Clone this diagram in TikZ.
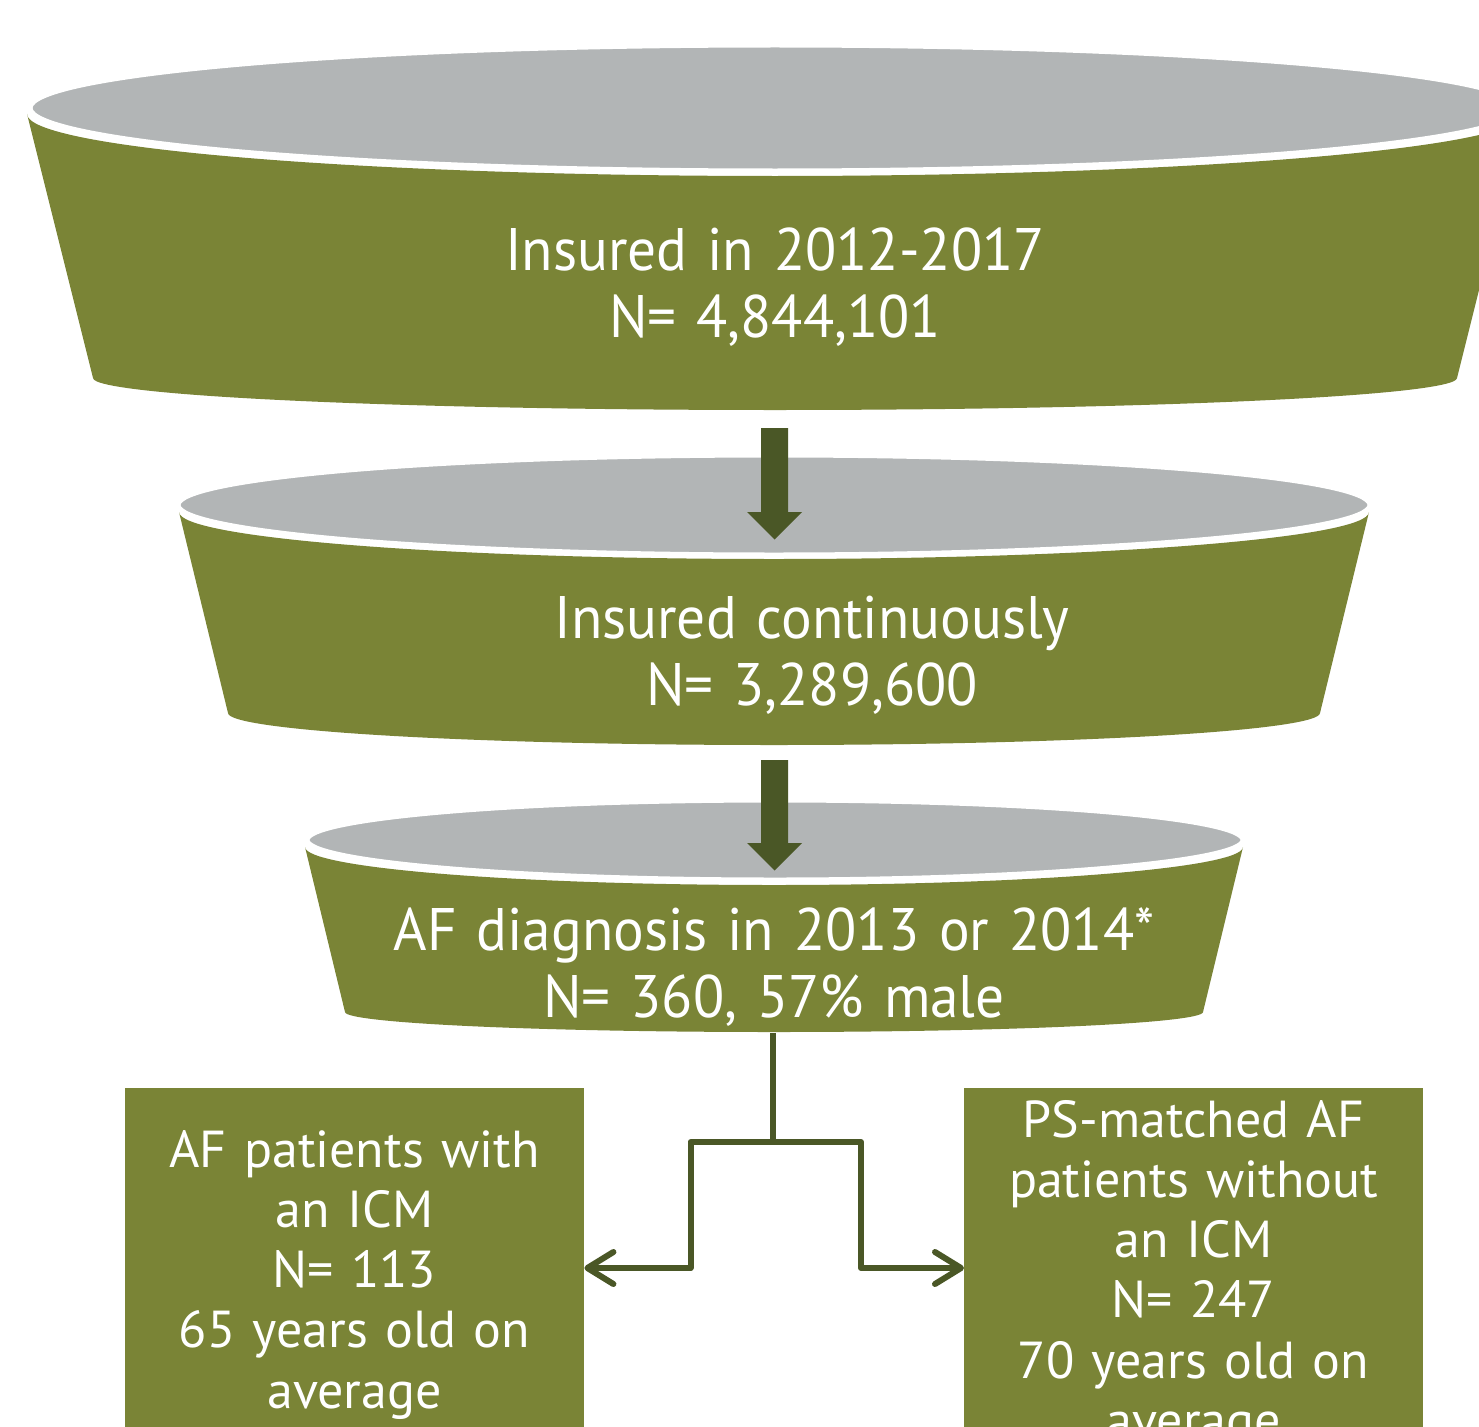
\documentclass[tikz,border=0pt]{standalone}
\usepackage{fontspec}
\setmainfont{PT Sans}
\newfontfamily\funnelfont[FakeStretch=0.955]{PT Sans}
\usetikzlibrary{arrows.meta}
\definecolor{fgreen}{RGB}{122,132,54}
\definecolor{fgray}{RGB}{178,181,182}
\definecolor{dgreen}{RGB}{74,87,38}
\begin{document}
\begin{tikzpicture}[x=1pt,y=1pt,
  funneltext/.style={text=white, font=\funnelfont\fontsize{60}{67}\selectfont, align=center, text width=1000pt, anchor=base, inner sep=0pt},
  boxtext/.style={text=white, font=\fontsize{52}{60.3}\selectfont, align=center, text width=450pt, anchor=base, inner sep=0pt},
  box/.style={fill=fgreen, draw=none, minimum width=459pt, minimum height=420pt, anchor=north west, inner sep=0pt},
  grayrim/.style={fill=fgray, draw=white, line width=5pt},
  blockarrow/.style={fill=dgreen},
  conn/.style={draw=dgreen, line width=6pt, line join=round, -{Straight Barb[length=26pt,width=32pt,line cap=round,line join=round]}}
]
\useasboundingbox (0,0) rectangle (1479,-1426);
\clip (0,0) rectangle (1479,-1426);
\fill[white] (0,0) rectangle (1479,-1426);

% funnel 1
\fill[fgreen] (27,-114) arc[start angle=180,end angle=360,x radius=748,y radius=62]
  -- (1457,-378) arc[start angle=0,end angle=-180,x radius=682,y radius=32] -- cycle;
\filldraw[grayrim] (775,-108) ellipse [x radius=745, y radius=63];

% funnel 2
\fill[fgreen] (179,-512) arc[start angle=180,end angle=360,x radius=595,y radius=47]
  -- (1320,-713) arc[start angle=0,end angle=-180,x radius=546,y radius=32] -- cycle;
\filldraw[grayrim] (774,-505) ellipse [x radius=596, y radius=50];

% funnel 3
\fill[fgreen] (305,-847) arc[start angle=180,end angle=360,x radius=469,y radius=38]
  -- (1203,-1012) arc[start angle=0,end angle=-180,x radius=429,y radius=20] -- cycle;
\filldraw[grayrim] (775,-840) ellipse [x radius=468, y radius=40];

% block arrows
\fill[blockarrow] (761,-428) -- (788,-428) -- (788,-512) -- (802,-512) -- (774.5,-539.5) -- (747,-512) -- (761,-512) -- cycle;
\fill[blockarrow] (761,-760) -- (788,-760) -- (788,-843) -- (802,-843) -- (774.5,-870.5) -- (747,-843) -- (761,-843) -- cycle;

% funnel texts
\node[funneltext] (t1) at (775,-270) {Insured in 2012-2017\\N= 4,844,101};
\node[funneltext] (t2) at (812,-638) {Insured continuously\\N= 3,289,600};
\node[funneltext] (t3) at (774,-950) {AF diagnosis in 2013 or 2014*\\N= 360, 57\% male};

% boxes
\node[box] (bL) at (125,-1088) {};
\node[box] (bR) at (964,-1088) {};
\node[boxtext] (tL) at (354.5,-1167) {AF patients with\\an ICM\\N= 113\\65 years old on\\average};
\node[boxtext] (tR) at (1193.5,-1137) {PS-matched AF\\patients without\\an ICM\\N= 247\\70 years old on\\average};

% connectors
\coordinate (f3b) at (773,-1033);
\coordinate (split) at (773,-1142);
\draw[dgreen, line width=6pt] (f3b) -- (split);
\draw[conn] (split) -- (690.5,-1142) -- (690.5,-1268) -- (bL.east |- 0,-1268);
\draw[conn] (split) -- (861,-1142) -- (861,-1268) -- (bR.west |- 0,-1268);
\end{tikzpicture}
\end{document}
